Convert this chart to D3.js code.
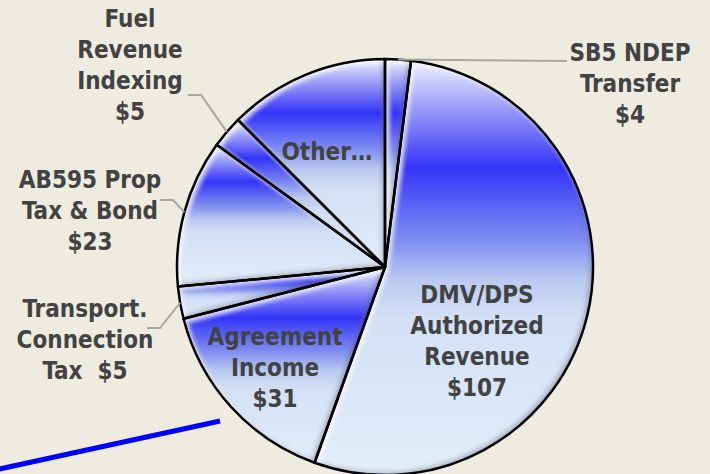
<!DOCTYPE html>
<html>
<head>
<meta charset="utf-8">
<script src="https://cdn.jsdelivr.net/npm/d3@7"></script>
<style>
  html, body { margin: 0; padding: 0; background: #EEECE1; }
  svg { display: block; }
  .label { font-family: "DejaVu Sans Condensed", "DejaVu Sans", sans-serif; font-weight: bold; font-size: 24px; fill: #424242; }
</style>
</head>
<body>
<svg id="chart" width="710" height="474"></svg>
<script>
// slices, clockwise from 12 o'clock
const names = ["SB5 NDEP Transfer", "DMV/DPS Authorized Revenue", "Agreement Income",
    "Transport. Connection Tax", "AB595 Prop Tax & Bond", "Fuel Revenue Indexing", "Other"];
const values = [4, 107, 31, 5, 23, 5, 25];
const labelLines = [
    ["SB5 NDEP", "Transfer", "$4"],
    ["DMV/DPS", "Authorized", "Revenue", "$107"],
    ["Agreement", "Income", "$31"],
    ["Transport.", "Connection", "Tax  $5"],
    ["AB595 Prop", "Tax & Bond", "$23"],
    ["Fuel", "Revenue", "Indexing", "$5"],
    ["Other…"]
];

const width = 710, height = 474;
const cx = 385, cy = 267, radius = 208;
const lineHeight = 31;

// where each label block sits (center x, first baseline) and, for outside labels, where the leader starts
const labelLayout = [
    { x: 630, y: 61, leader: [567, 61], side: "right" },
    { x: 477, y: 303 },
    { x: 275, y: 345 },
    { x: 85, y: 317, leader: [147, 328], side: "left" },
    { x: 90, y: 188, leader: [160, 200], side: "left" },
    { x: 130, y: 27, leader: [188, 95], side: "left" },
    { x: 327, y: 160 }
];

const svg = d3.select("#chart");
const defs = svg.append("defs");

const grad = defs.append("linearGradient")
    .attr("id", "sliceFill")
    .attr("x1", 0).attr("y1", 0).attr("x2", 0).attr("y2", 1);
[
    [0, "#F2F2FF"],
    [0.1, "#A4A6F8"],
    [0.26, "#3434F8"],
    [0.44, "#8492F0"],
    [0.53, "#BACAEF"],
    [0.62, "#D3E0F5"],
    [1, "#E3EEFA"]
].forEach(([o, c]) => grad.append("stop").attr("offset", o).attr("stop-color", c));

// soft bevel: light on the upper-left edges, grey on the lower-right
const bevel = defs.append("filter").attr("id", "bevel")
    .attr("x", "-5%").attr("y", "-5%").attr("width", "110%").attr("height", "110%");
bevel.append("feGaussianBlur").attr("in", "SourceAlpha").attr("stdDeviation", 2.5).attr("result", "blur");
bevel.append("feOffset").attr("in", "blur").attr("dx", -3).attr("dy", -3).attr("result", "offA");
bevel.append("feComposite").attr("in", "SourceAlpha").attr("in2", "offA")
    .attr("operator", "arithmetic").attr("k2", 1).attr("k3", -1).attr("result", "shadeMask");
bevel.append("feFlood").attr("flood-color", "#5a5a6a").attr("flood-opacity", 0.55);
bevel.append("feComposite").attr("in2", "shadeMask").attr("operator", "in").attr("result", "shade");
bevel.append("feOffset").attr("in", "blur").attr("dx", 3).attr("dy", 3).attr("result", "offB");
bevel.append("feComposite").attr("in", "SourceAlpha").attr("in2", "offB")
    .attr("operator", "arithmetic").attr("k2", 1).attr("k3", -1).attr("result", "lightMask");
bevel.append("feFlood").attr("flood-color", "#ffffff").attr("flood-opacity", 0.85);
bevel.append("feComposite").attr("in2", "lightMask").attr("operator", "in").attr("result", "light");
const merge = bevel.append("feMerge");
merge.append("feMergeNode").attr("in", "SourceGraphic");
merge.append("feMergeNode").attr("in", "shade");
merge.append("feMergeNode").attr("in", "light");

const pie = d3.pie().sort(null).value(d => d);
const arcs = pie(values);
const arc = d3.arc().innerRadius(0).outerRadius(radius);

const g = svg.append("g").attr("transform", `translate(${cx},${cy})`);

g.selectAll("path.slice")
    .data(arcs)
    .join("path")
    .attr("class", "slice")
    .attr("d", arc)
    .attr("fill", "url(#sliceFill)")
    .attr("filter", "url(#bevel)");

g.selectAll("path.edge")
    .data(arcs)
    .join("path")
    .attr("class", "edge")
    .attr("d", arc)
    .attr("fill", "none")
    .attr("stroke", "#000")
    .attr("stroke-width", 2.5)
    .attr("stroke-linejoin", "round");

// leader lines for outside labels
arcs.forEach((a, i) => {
    const lay = labelLayout[i];
    if (!lay.leader) return;
    const mid = (a.startAngle + a.endAngle) / 2;
    const ex = cx + radius * Math.sin(mid);
    const ey = cy - radius * Math.cos(mid);
    const [sx, sy] = lay.leader;
    const elbow = lay.side === "left" ? sx + 13 : sx - 13;
    const pts = lay.side === "right" ? [[sx, sy], [ex, ey]] : [[sx, sy], [elbow, sy], [ex, ey]];
    svg.append("path")
        .attr("d", d3.line()(pts))
        .attr("fill", "none")
        .attr("stroke", "#A6A6A6")
        .attr("stroke-width", 2);
});

// labels
labelLines.forEach((lines, i) => {
    const lay = labelLayout[i];
    const t = svg.append("text")
        .attr("class", "label")
        .attr("text-anchor", "middle")
        .attr("x", lay.x)
        .attr("y", lay.y);
    lines.forEach((l, j) => {
        t.append("tspan")
            .attr("x", lay.x)
            .attr("y", lay.y + j * lineHeight)
            .attr("xml:space", "preserve")
            .text(l);
    });
});

// decorative blue rule from the slide
svg.append("line")
    .attr("x1", -10).attr("y1", 471)
    .attr("x2", 220).attr("y2", 421)
    .attr("stroke", "#0000FF")
    .attr("stroke-width", 5);
</script>
</body>
</html>
